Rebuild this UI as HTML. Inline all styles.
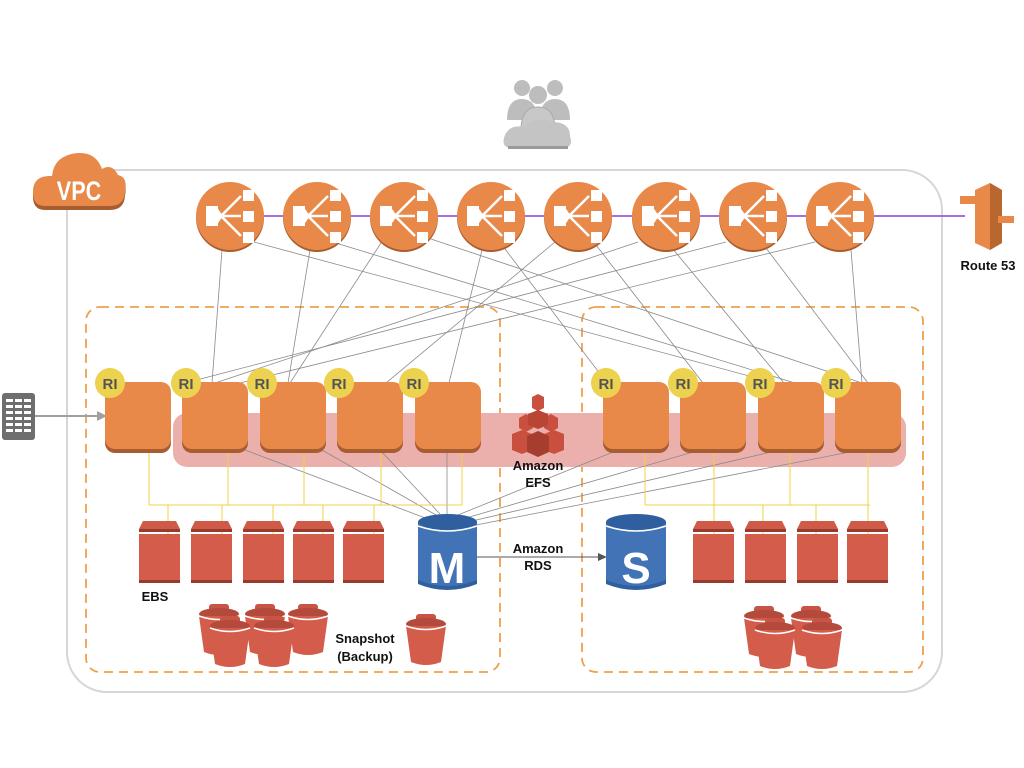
<!DOCTYPE html>
<html><head><meta charset="utf-8"><style>
html,body{margin:0;padding:0;background:#fff;}
svg{display:block;}
text{font-family:"Liberation Sans",sans-serif;font-weight:bold;}
</style></head><body>
<svg width="1024" height="768" viewBox="0 0 1024 768" xmlns="http://www.w3.org/2000/svg">
<defs>
  <g id="elb">
    <circle cx="0" cy="2" r="34" fill="#a85d30"/>
    <circle cx="0" cy="0" r="34" fill="#e8894a"/>
    <rect x="-24" y="-10" width="12" height="20" fill="#fff"/>
    <path d="M-14 -10 L-7 0 L-14 10 Z" fill="#fff"/>
    <rect x="13" y="-26" width="11" height="11" fill="#fff"/>
    <rect x="13" y="-5" width="11" height="11" fill="#fff"/>
    <rect x="13" y="16" width="11" height="11" fill="#fff"/>
    <path d="M-9 0 L11 -20 M-9 0 L11 0 M-9 0 L11 20" stroke="#fff" stroke-width="2.5"/>
  </g>
  <g id="inst">
    <rect x="0" y="3" width="66" height="68" rx="10" fill="#a85d30"/>
    <rect x="0" y="0" width="66" height="67" rx="10" fill="#e8894a"/>
  </g>
  <g id="ri">
    <circle r="15" fill="#ecd24e"/>
    <text x="0" y="6" text-anchor="middle" font-size="15" fill="#555">RI</text>
  </g>
  <g id="ebs">
    <path d="M4 0 H37 L41 8 H0 Z" fill="#cf5a48"/>
    <rect x="0" y="8" width="41" height="3" fill="#9a3a2c"/>
    <rect x="0" y="13" width="41" height="49" fill="#d45c4a"/>
    <rect x="0" y="59" width="41" height="3" fill="#9a3a2c"/>
  </g>
  <g id="bkt">
    <rect x="-10" y="-12" width="20" height="8" rx="3" fill="#c75444"/>
    <ellipse cx="0" cy="-2" rx="20" ry="6" fill="#b44a3c"/>
    <path d="M-20 0 L-15 36 Q0 42 15 36 L20 0 Z" fill="#d45c4a"/>
    <path d="M-20 0 Q0 7 20 0" stroke="#fff" stroke-width="1.5" fill="none"/>
  </g>
</defs>

<rect x="67" y="170" width="875" height="522" rx="40" fill="none" stroke="#d6d6d6" stroke-width="2"/>

<g fill="#bdbdbd">
  <circle cx="522" cy="88" r="8"/><circle cx="555" cy="88" r="8"/>
  <path d="M507 120 Q507 99 522 99 Q537 99 537 120 Z"/>
  <path d="M540 120 Q540 99 555 99 Q570 99 570 120 Z"/>
  <circle cx="538" cy="95" r="9"/>
  <path d="M521 130 Q521 107 538 107 Q555 107 555 130 Z" fill="#c8c8c8" stroke="#aaa" stroke-width="1"/>
  <path d="M512 148 Q500 148 505 135 Q510 124 525 127 Q535 115 552 122 Q570 122 570 136 Q574 148 562 148 Z" fill="#c4c4c4"/>
  <rect x="508" y="146" width="60" height="3" fill="#9a9a9a"/>
</g>

<g>
  <path d="M45 210 Q32 210 33 194 Q34 178 52 180 Q54 158 78 156 Q96 155 102 172 Q112 166 118 178 Q128 180 125 196 Q124 210 110 210 Z" fill="#a85d30"/>
  <path d="M45 206 Q32 206 33 190 Q34 175 52 176 Q54 155 78 153 Q96 152 102 169 Q112 163 118 175 Q128 177 125 192 Q124 206 110 206 Z" fill="#e8894a"/>
  <text x="0" y="0" text-anchor="middle" font-size="27" fill="#fff" transform="translate(79,200) scale(0.8,1)">VPC</text>
</g>

<rect x="86" y="307" width="414" height="365" rx="14" fill="none" stroke="#eea04a" stroke-width="1.8" stroke-dasharray="9,6"/>
<rect x="582" y="307" width="341" height="365" rx="14" fill="none" stroke="#eea04a" stroke-width="1.8" stroke-dasharray="9,6"/>

<rect x="173" y="413" width="733" height="54" rx="14" fill="#ebb0ac"/>

<line x1="230" y1="216" x2="965" y2="216" stroke="#a66ee0" stroke-width="2"/>

<g stroke="#8a8a8a" stroke-width="0.8" fill="none">
  <line x1="222" y1="250" x2="212" y2="383"/>
  <line x1="254" y1="242" x2="775" y2="383"/>
  <line x1="310" y1="250" x2="288" y2="383"/>
  <line x1="339" y1="244" x2="795" y2="383"/>
  <line x1="381" y1="243" x2="290" y2="383"/>
  <line x1="431" y1="239" x2="862" y2="383"/>
  <line x1="482" y1="250" x2="449" y2="383"/>
  <line x1="505" y1="249" x2="607" y2="383"/>
  <line x1="555" y1="242" x2="386" y2="383"/>
  <line x1="596" y1="245" x2="703" y2="383"/>
  <line x1="638" y1="242" x2="215" y2="383"/>
  <line x1="672" y1="248" x2="784" y2="383"/>
  <line x1="726" y1="242" x2="185" y2="383"/>
  <line x1="766" y1="248" x2="868" y2="383"/>
  <line x1="815" y1="242" x2="240" y2="383"/>
  <line x1="851" y1="250" x2="862" y2="383"/>
</g>

<use href="#elb" x="230" y="216"/><use href="#elb" x="317" y="216"/>
<use href="#elb" x="404" y="216"/><use href="#elb" x="491" y="216"/>
<use href="#elb" x="578" y="216"/><use href="#elb" x="666" y="216"/>
<use href="#elb" x="753" y="216"/><use href="#elb" x="840" y="216"/>

<g>
  <path d="M975 190 L990 183 L1002 190 L1002 243 L990 250 L975 243 Z" fill="#e8894a"/>
  <path d="M990 183 L1002 190 L1002 243 L990 250 Z" fill="#b8672f"/>
  <rect x="960" y="196" width="22" height="8" fill="#e8894a"/>
  <rect x="998" y="216" width="16" height="7" fill="#e8894a"/>
  <text x="988" y="270" text-anchor="middle" font-size="13" fill="#111">Route 53</text>
</g>

<rect x="2" y="393" width="33" height="47" rx="3" fill="#6e6e6e"/>
<g fill="#fff">
  <rect x="6" y="399" width="7" height="3"/><rect x="15" y="399" width="7" height="3"/><rect x="24" y="399" width="7" height="3"/>
  <rect x="6" y="405" width="7" height="3"/><rect x="15" y="405" width="7" height="3"/><rect x="24" y="405" width="7" height="3"/>
  <rect x="6" y="411" width="7" height="3"/><rect x="15" y="411" width="7" height="3"/><rect x="24" y="411" width="7" height="3"/>
  <rect x="6" y="417" width="7" height="3"/><rect x="15" y="417" width="7" height="3"/><rect x="24" y="417" width="7" height="3"/>
  <rect x="6" y="423" width="7" height="3"/><rect x="15" y="423" width="7" height="3"/><rect x="24" y="423" width="7" height="3"/>
  <rect x="6" y="429" width="7" height="3"/><rect x="15" y="429" width="7" height="3"/><rect x="24" y="429" width="7" height="3"/>
</g>
<line x1="35" y1="416" x2="98" y2="416" stroke="#a0a0a0" stroke-width="2"/>
<path d="M107 416 L97 411 L97 421 Z" fill="#a0a0a0"/>

<g stroke="#8a8a8a" stroke-width="0.8">
  <line x1="245" y1="450" x2="428" y2="519"/>
  <line x1="322" y1="450" x2="436" y2="515"/>
  <line x1="380" y1="450" x2="440" y2="514"/>
  <line x1="447" y1="450" x2="447" y2="514"/>
  <line x1="618" y1="450" x2="458" y2="515"/>
  <line x1="700" y1="450" x2="466" y2="518"/>
  <line x1="780" y1="450" x2="472" y2="521"/>
  <line x1="860" y1="450" x2="476" y2="525"/>
</g>

<g stroke="#f0d040" stroke-width="1" fill="none">
  <line x1="149" y1="450" x2="149" y2="505"/><line x1="228" y1="450" x2="228" y2="505"/>
  <line x1="304" y1="450" x2="304" y2="505"/><line x1="381" y1="450" x2="381" y2="505"/>
  <line x1="462" y1="450" x2="462" y2="505"/>
  <line x1="149" y1="505" x2="462" y2="505"/>
  <line x1="168" y1="505" x2="168" y2="535"/><line x1="222" y1="505" x2="222" y2="535"/>
  <line x1="273" y1="505" x2="273" y2="535"/><line x1="323" y1="505" x2="323" y2="535"/>
  <line x1="374" y1="505" x2="374" y2="535"/>
  <line x1="645" y1="450" x2="645" y2="505"/><line x1="714" y1="450" x2="714" y2="505"/>
  <line x1="790" y1="450" x2="790" y2="505"/><line x1="868" y1="450" x2="868" y2="505"/>
  <line x1="645" y1="505" x2="870" y2="505"/>
  <line x1="763" y1="505" x2="763" y2="535"/><line x1="816" y1="505" x2="816" y2="535"/>
  <line x1="714" y1="505" x2="714" y2="535"/><line x1="868" y1="505" x2="868" y2="535"/>
</g>

<use href="#inst" x="105" y="382"/><use href="#inst" x="182" y="382"/>
<use href="#inst" x="260" y="382"/><use href="#inst" x="337" y="382"/>
<use href="#inst" x="415" y="382"/>
<use href="#inst" x="603" y="382"/><use href="#inst" x="680" y="382"/>
<use href="#inst" x="758" y="382"/><use href="#inst" x="835" y="382"/>
<use href="#ri" x="110" y="383"/><use href="#ri" x="186" y="383"/>
<use href="#ri" x="262" y="383"/><use href="#ri" x="339" y="383"/>
<use href="#ri" x="414" y="383"/>
<use href="#ri" x="606" y="383"/><use href="#ri" x="683" y="383"/>
<use href="#ri" x="760" y="383"/><use href="#ri" x="836" y="383"/>

<g>
  <path d="M532 397 L538 394 L544 397 L544 408 L538 411 L532 408 Z" fill="#c9503f"/>
  <path d="M519 418 L526 414 L533 418 L533 428 L526 432 L519 428 Z" fill="#c9503f"/>
  <path d="M544 418 L551 414 L558 418 L558 428 L551 432 L544 428 Z" fill="#c9503f"/>
  <path d="M528 414 L538 410 L548 414 L548 425 L538 429 L528 425 Z" fill="#b94535"/>
  <path d="M512 434 L522 430 L532 434 L532 450 L522 454 L512 450 Z" fill="#c9503f"/>
  <path d="M544 434 L554 430 L564 434 L564 450 L554 454 L544 450 Z" fill="#c9503f"/>
  <path d="M527 436 L538 431 L549 436 L549 452 L538 457 L527 452 Z" fill="#a63d2f"/>
</g>
<text x="538" y="470" text-anchor="middle" font-size="13" fill="#111">Amazon</text>
<text x="538" y="487" text-anchor="middle" font-size="13" fill="#111">EFS</text>

<use href="#ebs" x="139" y="521"/><use href="#ebs" x="191" y="521"/>
<use href="#ebs" x="243" y="521"/><use href="#ebs" x="293" y="521"/>
<use href="#ebs" x="343" y="521"/>
<use href="#ebs" x="693" y="521"/><use href="#ebs" x="745" y="521"/>
<use href="#ebs" x="797" y="521"/><use href="#ebs" x="847" y="521"/>
<text x="155" y="601" text-anchor="middle" font-size="13" fill="#111">EBS</text>

<line x1="477" y1="557" x2="600" y2="557" stroke="#555" stroke-width="1"/>
<path d="M607 557 L598 553 L598 561 Z" fill="#555"/>
<text x="538" y="553" text-anchor="middle" font-size="13" fill="#111">Amazon</text>
<text x="538" y="570" text-anchor="middle" font-size="13" fill="#111">RDS</text>

<g>
  <path d="M418 522 L418 584 Q447 596 477 584 L477 522 Z" fill="#2f5f9e"/>
  <path d="M418 522 L418 580 Q447 592 477 580 L477 522 Z" fill="#4173b6"/>
  <ellipse cx="447.5" cy="522" rx="29.5" ry="8" fill="#2f5f9e"/>
  <path d="M418 526 Q447 536 477 526" stroke="#fff" stroke-width="1.5" fill="none"/>
  <text x="447" y="583" text-anchor="middle" font-size="44" fill="#fff">M</text>
</g>
<g>
  <path d="M606 522 L606 584 Q636 596 666 584 L666 522 Z" fill="#2f5f9e"/>
  <path d="M606 522 L606 580 Q636 592 666 580 L666 522 Z" fill="#4173b6"/>
  <ellipse cx="636" cy="522" rx="30" ry="8" fill="#2f5f9e"/>
  <path d="M606 526 Q636 536 666 526" stroke="#fff" stroke-width="1.5" fill="none"/>
  <text x="636" y="583" text-anchor="middle" font-size="44" fill="#fff">S</text>
</g>

<use href="#bkt" x="219" y="616"/><use href="#bkt" x="265" y="616"/>
<use href="#bkt" x="308" y="616"/>
<use href="#bkt" x="230" y="628"/><use href="#bkt" x="274" y="628"/>
<use href="#bkt" x="426" y="626"/>
<text x="365" y="643" text-anchor="middle" font-size="13" fill="#111">Snapshot</text>
<text x="365" y="661" text-anchor="middle" font-size="13" fill="#111">(Backup)</text>
<use href="#bkt" x="764" y="618"/><use href="#bkt" x="811" y="618"/>
<use href="#bkt" x="775" y="630"/><use href="#bkt" x="822" y="630"/>
</svg>
</body></html>
